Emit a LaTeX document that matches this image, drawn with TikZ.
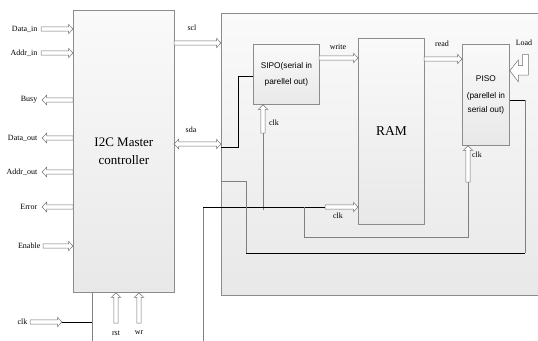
\documentclass[tikz,border=0pt]{standalone}
\usepackage{fontspec}
\setmainfont{Liberation Serif}
\newfontfamily\arialf{Liberation Sans}
\usetikzlibrary{calc}
\tikzset{
 box/.style={draw=black!45, line width=0.8pt, top color=black!2, bottom color=black!9, inner sep=0pt, align=center},
 barrow/.style={draw=black!55, fill=white, line width=0.5pt},
 gline/.style={draw=black!50, line width=0.75pt},
 kline/.style={draw=black, line width=0.75pt},
 lbl/.style={font=\fontsize{8}{8.5}\selectfont, inner sep=0.5pt},
}
\newcommand\harr[2]{\path[barrow] let \p1=(#1), \p2=(#2), \n1={ifthenelse(\x2>\x1,1,-1)} in
 (\x1,{\y1+2.2pt}) -- ({\x2-\n1*4.5pt},{\y1+2.2pt}) -- ({\x2-\n1*4.5pt},{\y1+4.7pt}) -- (\x2,\y1)
 -- ({\x2-\n1*4.5pt},{\y1-4.7pt}) -- ({\x2-\n1*4.5pt},{\y1-2.2pt}) -- (\x1,{\y1-2.2pt}) -- cycle;}
\newcommand\varr[2]{\path[barrow] let \p1=(#1), \p2=(#2), \n1={ifthenelse(\y2>\y1,1,-1)} in
 ({\x1+2.2pt},\y1) -- ({\x1+2.2pt},{\y2-\n1*4.5pt}) -- ({\x1+4.7pt},{\y2-\n1*4.5pt}) -- (\x1,\y2)
 -- ({\x1-4.7pt},{\y2-\n1*4.5pt}) -- ({\x1-2.2pt},{\y2-\n1*4.5pt}) -- ({\x1-2.2pt},\y1) -- cycle;}
\newcommand\dharr[2]{\path[barrow] let \p1=(#1), \p2=(#2), \n1={ifthenelse(\x2>\x1,1,-1)} in
 (\x1,\y1) -- ({\x1+\n1*4.5pt},{\y1+4.7pt}) -- ({\x1+\n1*4.5pt},{\y1+2.2pt}) -- ({\x2-\n1*4.5pt},{\y1+2.2pt})
 -- ({\x2-\n1*4.5pt},{\y1+4.7pt}) -- (\x2,\y1) -- ({\x2-\n1*4.5pt},{\y1-4.7pt}) -- ({\x2-\n1*4.5pt},{\y1-2.2pt})
 -- ({\x1+\n1*4.5pt},{\y1-2.2pt}) -- ({\x1+\n1*4.5pt},{\y1-4.7pt}) -- cycle;}
\begin{document}
\begin{tikzpicture}[x=1pt,y=-1pt]
\useasboundingbox (0,0) rectangle (538,340);
\clip (0,0) rectangle (538,340);
% boxes
\node[box, minimum width=324pt, minimum height=282pt, anchor=north west] (big) at (221,13) {};
\node[box, minimum width=101pt, minimum height=282pt, anchor=north west,
      font=\fontsize{13}{18}\selectfont] (m) at (73,10) {I2C Master\\controller};
\node[box, minimum width=66pt, minimum height=60pt, anchor=north west,
      font=\arialf\fontsize{8.3}{16}\selectfont] (sipo) at (253,44) {SIPO(serial in\\parellel out)};
\node[box, minimum width=66pt, minimum height=186pt, anchor=north west,
      font=\fontsize{13.5}{15}\selectfont] (ram) at (358,38) {RAM};
\node[box, minimum width=47pt, minimum height=101pt, anchor=north west,
      font=\arialf\fontsize{8.3}{14}\selectfont] (piso) at (462,44) {\raisebox{3pt}{PISO}\\(parellel in\\serial out)};

% left side signals
\coordinate (din) at (41,29);
\coordinate (ain) at (41,53);
\coordinate (busy) at (42,100);
\coordinate (dout) at (42,138);
\coordinate (aout) at (42,172);
\coordinate (err) at (42,207);
\coordinate (en) at (43,246);
\harr{din}{m.west |- din}
\harr{ain}{m.west |- ain}
\harr{m.west |- busy}{busy}
\harr{m.west |- dout}{dout}
\harr{m.west |- aout}{aout}
\harr{m.west |- err}{err}
\harr{en}{m.west |- en}
\node[lbl, anchor=east] (ldin) at (38,29) {Data\_in};
\node[lbl, anchor=east] (lain) at (38,53) {Addr\_in};
\node[lbl, anchor=east] (lbusy) at (38,100) {Busy};
\node[lbl, anchor=east] (ldout) at (38,138) {Data\_out};
\node[lbl, anchor=east] (laout) at (38,172) {Addr\_out};
\node[lbl, anchor=east] (lerr) at (38,207) {Error};
\node[lbl, anchor=east] (len) at (41,246) {Enable};

% master clk, rst, wr
\coordinate (clkin) at (30,322);
\coordinate (clkend) at (62,322);
\coordinate (clkj) at (92,322);
\coordinate (clkbot) at (92,345);
\harr{clkin}{clkend}
\draw[kline] (clkend) -- (clkj);
\draw[gline] (m.south -| clkj) -- (clkbot);
\node[lbl, anchor=east] (lclk) at (28,322) {clk};
\coordinate (rst) at (116,323);
\coordinate (wr) at (139,323);
\varr{rst}{m.south -| rst}
\varr{wr}{m.south -| wr}
\node[lbl] (lrst) at (116,333) {rst};
\node[lbl] (lwr) at (139,333) {wr};

% scl, sda
\coordinate (scl) at (174,43);
\harr{scl}{big.west |- scl}
\node[lbl] (lscl) at (192,28) {scl};
\coordinate (sda) at (174,144);
\dharr{sda}{big.west |- sda}
\node[lbl] (lsda) at (191,130) {sda};
\coordinate (sda1) at (238,147);
\coordinate (sda2) at (238,76);
\draw[kline] (big.west |- sda1) -- (sda1) -- (sda2) -- (sipo.west |- sda2);

% write, read
\coordinate (wri) at (319,58);
\harr{wri}{ram.west |- wri}
\node[lbl] (lwrite) at (338,47) {write};
\coordinate (rd) at (424,59);
\harr{rd}{piso.west |- rd}
\node[lbl] (lread) at (442,44) {read};

% Load
\node[lbl] (lload) at (524,43) {Load};
\path[barrow] (522.7,54.3) -- (528.3,54.3) -- (528.3,75) -- (518.3,75) -- (518.3,81.7)
  -- (piso.east |- 0,70.7) -- (518.3,60) -- (518.3,65.7) -- (522.7,65.7) -- cycle;

% SIPO clk
\coordinate (sclk) at (263,133);
\coordinate (sclkb) at (263,210);
\draw[gline] (sclk) -- (sclkb);
\varr{sclk}{sipo.south -| sclk}
\node[lbl] (lsclk) at (274,123) {clk};

% RAM clk
\coordinate (rb) at (203,345);
\coordinate (rc) at (203,207);
\coordinate (rclk) at (325,207);
\draw[gline] (rb) -- (rc);
\draw[kline] (rc) -- (rclk);
\harr{rclk}{ram.west |- rclk}
\node[lbl] (lrclk) at (338,216) {clk};

% PISO clk
\coordinate (p1) at (304,207);
\coordinate (p2) at (304,237);
\coordinate (p3) at (468,237);
\coordinate (pclk) at (468,182);
\draw[gline] (p1) -- (p2) -- (p3) -- (pclk);
\varr{pclk}{piso.south -| pclk}
\node[lbl] (lpclk) at (477,155) {clk};

% PISO serial out
\coordinate (o1) at (525,100);
\coordinate (o2) at (525,253);
\coordinate (o3) at (246,253);
\coordinate (o4) at (246,181);
\draw[kline] (piso.east |- o1) -- (o1);
\draw[gline] (o1) -- (o2);
\draw[kline] (o2) -- (o3);
\draw[gline] (o3) -- (o4) -- (big.west |- o4);
\end{tikzpicture}
\end{document}
